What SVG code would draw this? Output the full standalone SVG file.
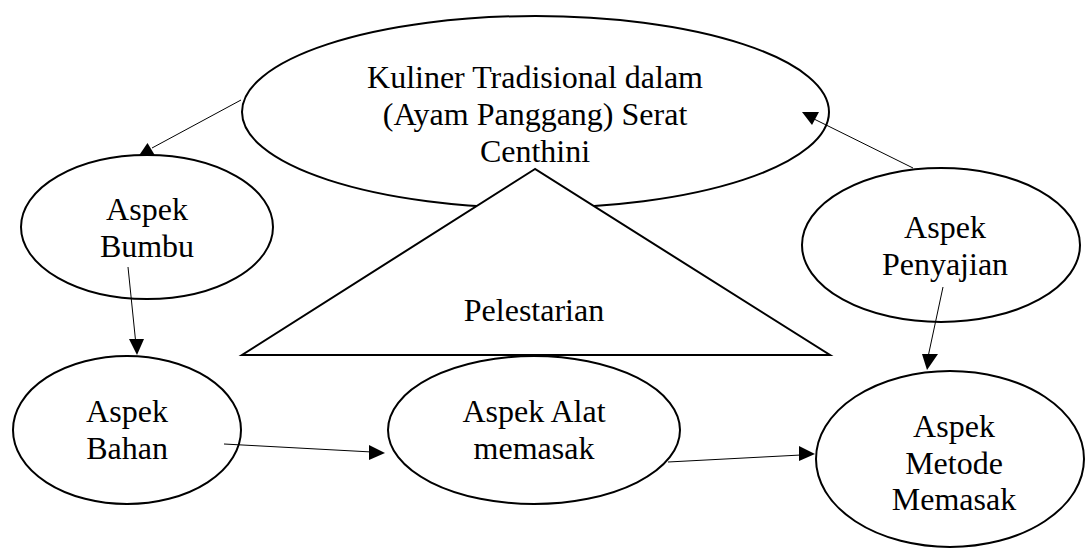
<svg xmlns="http://www.w3.org/2000/svg" width="1086" height="548" viewBox="0 0 1086 548">
<style>
.n{fill:#fff;stroke:#000;stroke-width:2}
.t{font-family:"Liberation Serif","Times New Roman",serif;font-size:32px;fill:#000;text-anchor:middle}
.c line{stroke:#000;stroke-width:1}
.c polygon{fill:#000;stroke:none}
</style>
<rect width="1086" height="548" fill="#fff"/>
<g id="kuliner">
<ellipse class="n" cx="535.5" cy="112" rx="293.5" ry="96"/>
<text class="t" x="535" y="88">Kuliner Tradisional dalam</text>
<text class="t" x="535" y="125">(Ayam Panggang) Serat</text>
<text class="t" x="535" y="162">Centhini</text>
</g>
<g id="pelestarian">
<polygon class="n" points="535,169 242,355 830,355"/>
<text class="t" x="534" y="321">Pelestarian</text>
</g>
<g id="bumbu">
<ellipse class="n" cx="147" cy="227" rx="126" ry="72"/>
<text class="t" x="147" y="220">Aspek</text>
<text class="t" x="147" y="257">Bumbu</text>
</g>
<g id="bahan">
<ellipse class="n" cx="127" cy="430" rx="114" ry="74"/>
<text class="t" x="127" y="422">Aspek</text>
<text class="t" x="127" y="459">Bahan</text>
</g>
<g id="alat">
<ellipse class="n" cx="534" cy="430" rx="146" ry="74"/>
<text class="t" x="534" y="422">Aspek Alat</text>
<text class="t" x="534" y="459">memasak</text>
</g>
<g id="penyajian">
<ellipse class="n" cx="941" cy="245" rx="139" ry="77"/>
<text class="t" x="945" y="238">Aspek</text>
<text class="t" x="945" y="275">Penyajian</text>
</g>
<g id="metode">
<ellipse class="n" cx="950" cy="459" rx="134" ry="88"/>
<text class="t" x="954" y="437">Aspek</text>
<text class="t" x="954" y="473.5">Metode</text>
<text class="t" x="954" y="510">Memasak</text>
</g>
<g id="connectors" class="c">
<line x1="241" y1="100" x2="152" y2="148"/>
<polygon points="147.5,143 139,155.5 155,155.5"/>
<line x1="913" y1="168" x2="812" y2="118"/>
<polygon points="802,112 819,112 812,125"/>
<line x1="128" y1="267" x2="136" y2="345"/>
<polygon points="137,355 129,339 144,339"/>
<line x1="224" y1="444" x2="372" y2="452"/>
<polygon points="385,453 369,445 369,460"/>
<line x1="668" y1="462" x2="801" y2="455"/>
<polygon points="815,454 799,446 799,461"/>
<line x1="943" y1="287" x2="928" y2="357"/>
<polygon points="927,370 922,354 938,354"/>
</g>
</svg>
